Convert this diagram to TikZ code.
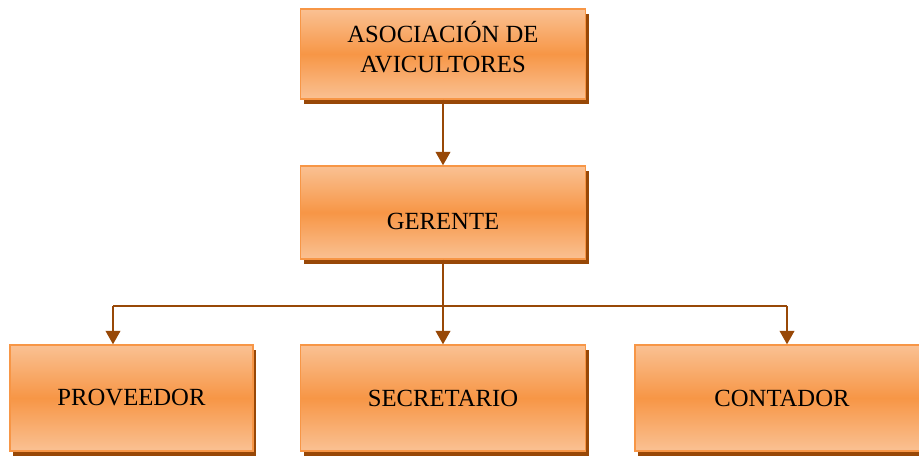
\documentclass[tikz,border=0pt]{standalone}
\usepackage{fontspec}
\setmainfont{Liberation Serif}
\usetikzlibrary{arrows.meta,shadows,positioning}
\definecolor{BoxOrange}{HTML}{F79646}
\definecolor{BoxLight}{HTML}{FAC193}
\definecolor{ShadowBrown}{HTML}{984807}

\tikzset{
    orgbox/.style={draw=BoxOrange, line width=1.1pt, inner sep=0pt,
        top color=BoxLight, bottom color=BoxLight, middle color=BoxOrange,
        drop shadow={shadow xshift=2.25pt, shadow yshift=-3.75pt, fill=ShadowBrown, opacity=1},
        font=\fontsize{18.5}{22}\selectfont, align=center,
        minimum width=213.75pt, minimum height=79.5pt},
    link/.style={draw=ShadowBrown, line width=1.1pt},
    arrow/.style={link, -{Triangle[width=11pt,length=10pt]}}
}

\begin{document}
\begin{tikzpicture}[x=0.75pt,y=-0.75pt]
    \useasboundingbox (0,0) rectangle (919,458);

    \node[orgbox, minimum height=67.5pt, text height=40pt, text depth=13pt] (asociacion) at (443,54) {ASOCIACIÓN DE\\AVICULTORES};
    \node[orgbox, minimum height=69.75pt, text height=26pt, text depth=0pt] (gerente) at (443,212.5) {GERENTE};
    \node[orgbox, minimum width=182.25pt] (proveedor) at (131.5,398) {PROVEEDOR};
    \node[orgbox] (secretario) at (443,398) {SECRETARIO};
    \node[orgbox, minimum width=220.5pt] (contador) at (782,398) {CONTADOR};

    \coordinate (barL) at (113,306);
    \coordinate (barR) at (787,306);

    \draw[arrow] (asociacion) -- (gerente);
    \draw[arrow] (gerente) -- (secretario);
    \draw[link] (barL) -- (barR);
    \draw[arrow] (barL) -- (barL |- proveedor.north);
    \draw[arrow] (barR) -- (barR |- contador.north);
\end{tikzpicture}
\end{document}
